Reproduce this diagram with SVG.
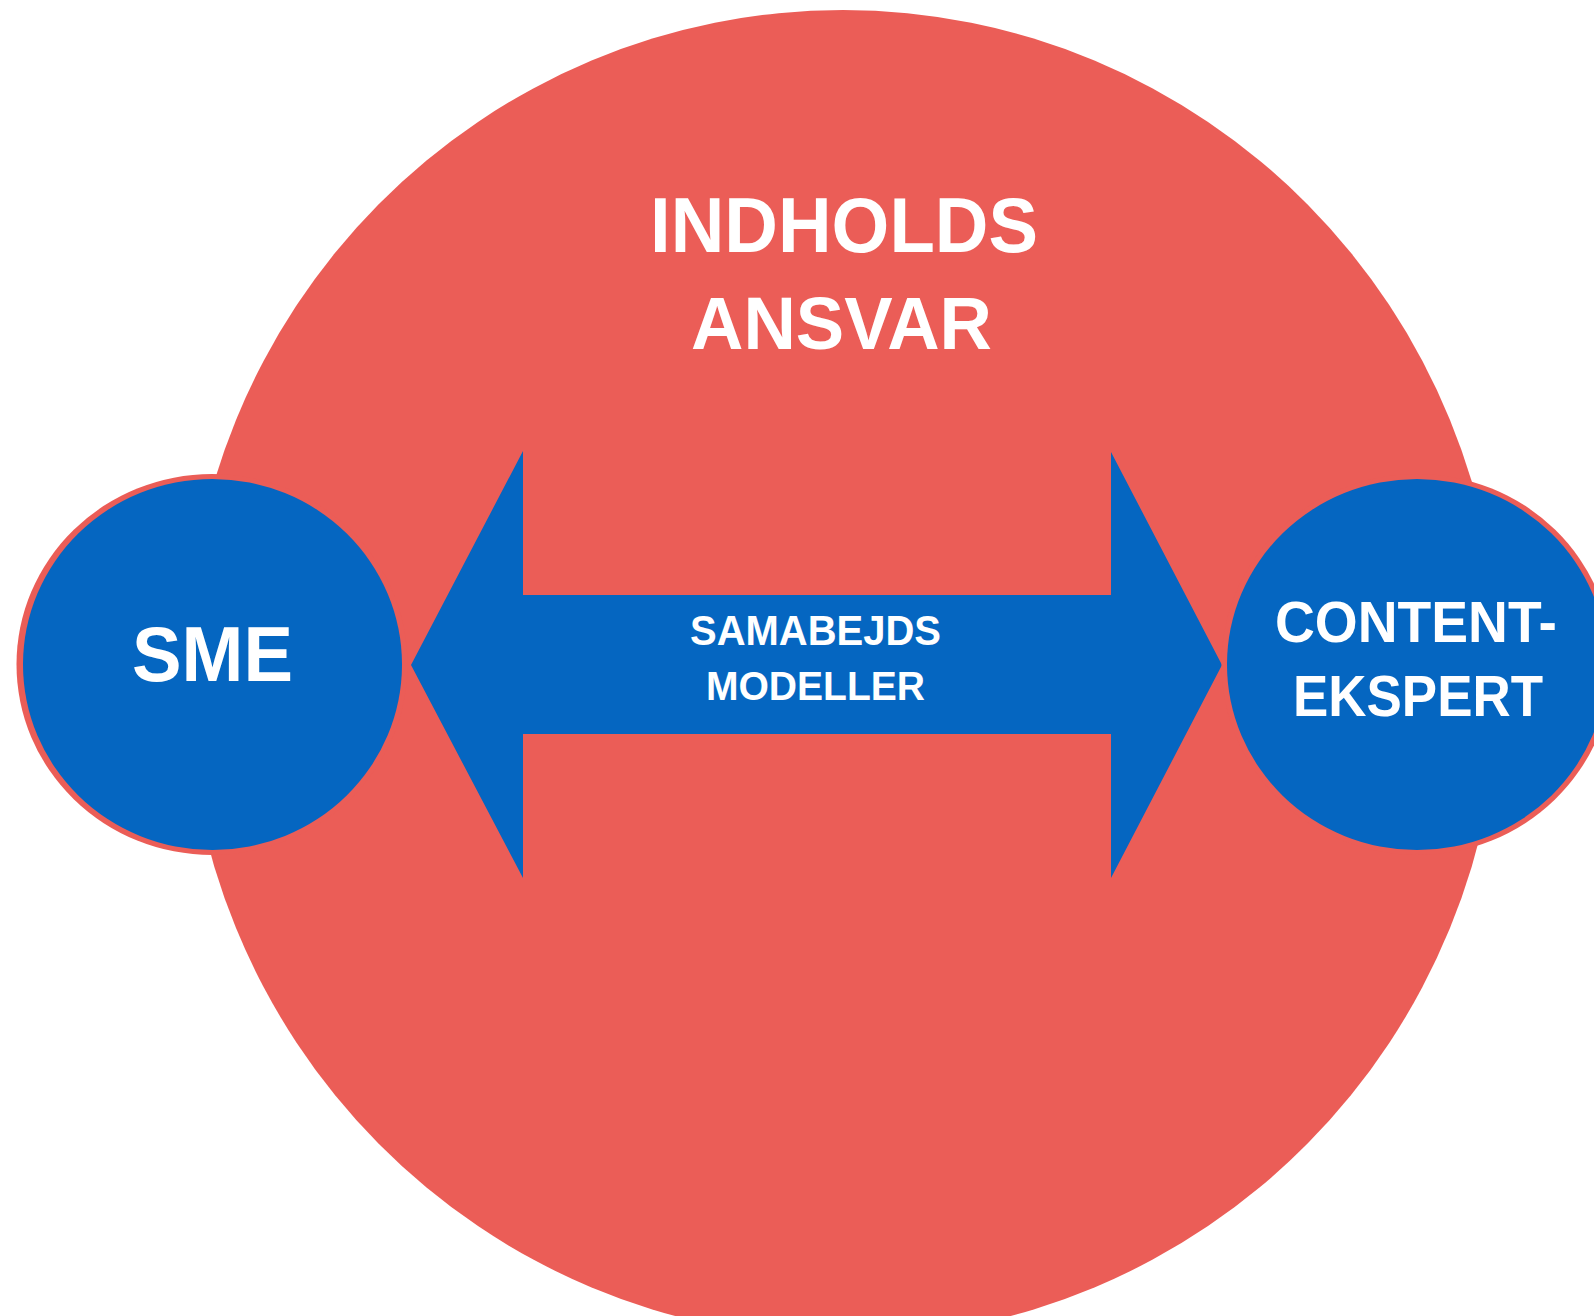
<svg xmlns="http://www.w3.org/2000/svg" width="1594" height="1316" viewBox="0 0 1594 1316">
  <style>
    .red { fill: #EB5D57; }
    .blue { fill: #0566C1; }
    .t { font-family: "Liberation Sans", Arial, sans-serif; font-weight: bold; fill: #FFFFFF; }
  </style>
  <rect width="1594" height="1316" fill="#FFFFFF"/>
  <g id="indholdsansvar">
    <ellipse class="red" cx="843" cy="674" rx="657" ry="664"/>
    <text class="t" x="650" y="252" font-size="78" textLength="388" lengthAdjust="spacingAndGlyphs">INDHOLDS</text>
    <text class="t" x="691" y="349" font-size="74" textLength="301" lengthAdjust="spacingAndGlyphs">ANSVAR</text>
  </g>
  <g id="connectors">
    <polygon class="blue" points="411,665 523,451 523,595 1111,595 1111,452 1222,665 1111,878 1111,734 523,734 523,878"/>
    <text class="t" x="690" y="645" font-size="42" textLength="251" lengthAdjust="spacingAndGlyphs">SAMABEJDS</text>
    <text class="t" x="706" y="700" font-size="41" textLength="219" lengthAdjust="spacingAndGlyphs">MODELLER</text>
  </g>
  <g id="sme">
    <ellipse class="red" cx="212" cy="664.5" rx="195.5" ry="190.5"/>
    <ellipse class="blue" cx="212.5" cy="664.5" rx="189.5" ry="185.5"/>
    <text class="t" x="132" y="681" font-size="78" textLength="161" lengthAdjust="spacingAndGlyphs">SME</text>
  </g>
  <g id="content-ekspert">
    <ellipse class="red" cx="1417" cy="664.5" rx="195.5" ry="190.5"/>
    <ellipse class="blue" cx="1417" cy="664.5" rx="190" ry="185.5"/>
    <text class="t" x="1275" y="642" font-size="58" textLength="282" lengthAdjust="spacingAndGlyphs">CONTENT-</text>
    <text class="t" x="1293" y="716" font-size="58" textLength="250" lengthAdjust="spacingAndGlyphs">EKSPERT</text>
  </g>
</svg>
